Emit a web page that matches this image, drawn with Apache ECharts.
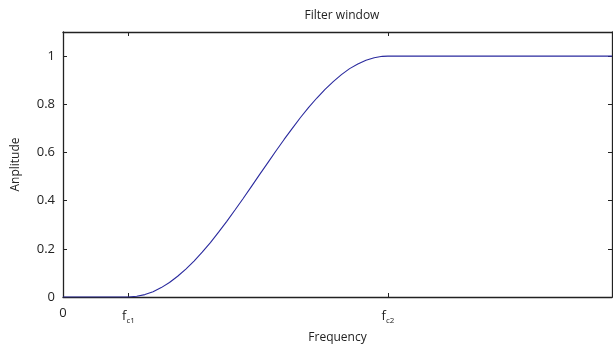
<!DOCTYPE html>
<html>
<head>
<meta charset="utf-8">
<script src="https://cdn.jsdelivr.net/npm/echarts@6/dist/echarts.min.js"></script>
<style>html,body{margin:0;padding:0;background:#fff;}#c{width:613px;height:349px;}</style>
</head>
<body>
<div id="c"></div>
<script>
// Frequency positions (fc1 = 1, fc2 = 4.96, right edge 8.38)
const freq = [0, 1, 1.125, 1.25, 1.375, 1.5, 1.625, 1.75, 1.875, 2, 2.125, 2.25, 2.375, 2.5, 2.625, 2.75, 2.875,
  3, 3.125, 3.25, 3.375, 3.5, 3.625, 3.75, 3.875, 4, 4.125, 4.25, 4.375, 4.5, 4.625, 4.75, 4.875, 4.96, 8.38];
const amplitude = [0, 0, 0.003, 0.010, 0.022, 0.039, 0.060, 0.086, 0.116, 0.149, 0.186, 0.226, 0.269, 0.314, 0.361, 0.409, 0.458,
  0.508, 0.557, 0.606, 0.654, 0.700, 0.745, 0.787, 0.826, 0.862, 0.894, 0.923, 0.948, 0.967, 0.983, 0.993, 0.999, 1, 1];
const xTickValues = [0, 1, 4.96];
const xTickLabels = ['0', '{f|f}{s|c1}', '{f|f}{s|c2}'];
const yTicks = [0, 0.2, 0.4, 0.6, 0.8, 1];

const FONT = 'Open Sans';
const chart = echarts.init(document.getElementById('c'));
const axisLine = { show: true, onZero: false, lineStyle: { color: '#222', width: 1.3 } };
chart.setOption({
  animation: false,
  backgroundColor: '#fff',
  title: {
    text: 'Filter window', left: 337, top: 5, textAlign: 'center',
    textStyle: { fontFamily: FONT, fontSize: 12, fontWeight: 'normal', color: '#222' }
  },
  grid: { left: 63, right: 1, top: 32, bottom: 49 },
  xAxis: [{
    type: 'value', min: 0, max: 8.38, position: 'bottom',
    name: 'Frequency', nameLocation: 'middle', nameGap: 35,
    nameTextStyle: { fontFamily: FONT, fontSize: 12, color: '#222' },
    axisLine: axisLine,
    splitLine: { show: false },
    axisTick: { show: true, inside: true, length: 4, customValues: xTickValues, lineStyle: { color: '#222' } },
    axisLabel: {
      customValues: xTickValues, margin: 10,
      formatter: function (v) { const i = xTickValues.indexOf(v); return i >= 0 ? xTickLabels[i] : ''; },
      fontFamily: FONT, fontSize: 13, color: '#222',
      rich: {
        f: { fontFamily: FONT, fontSize: 13, color: '#222' },
        s: { fontFamily: FONT, fontSize: 8, color: '#222', padding: [10, 0, 0, 0] }
      }
    }
  }, {
    type: 'value', min: 0, max: 8.38, position: 'top',
    axisLine: axisLine, splitLine: { show: false },
    axisTick: { show: true, inside: true, length: 4, customValues: xTickValues, lineStyle: { color: '#222' } },
    axisLabel: { show: false }
  }],
  yAxis: [{
    type: 'value', min: 0, max: 1.1, position: 'left',
    name: 'Anplitude', nameLocation: 'middle', nameGap: 41, nameRotate: 90,
    nameTextStyle: { fontFamily: FONT, fontSize: 12, color: '#222' },
    axisLine: axisLine, splitLine: { show: false },
    axisTick: { show: true, inside: true, length: 4, customValues: yTicks, lineStyle: { color: '#222' } },
    axisLabel: { customValues: yTicks, margin: 8, fontFamily: FONT, fontSize: 13, color: '#222' }
  }, {
    type: 'value', min: 0, max: 1.1, position: 'right',
    axisLine: axisLine, splitLine: { show: false },
    axisTick: { show: true, inside: true, length: 4, customValues: yTicks, lineStyle: { color: '#222' } },
    axisLabel: { show: false }
  }],
  series: [{
    type: 'line', xAxisIndex: 0, yAxisIndex: 0,
    data: freq.map((f, i) => [f, amplitude[i]]),
    showSymbol: false, smooth: false,
    lineStyle: { color: '#2a2a9e', width: 1.1 }
  }]
});
</script>
</body>
</html>
